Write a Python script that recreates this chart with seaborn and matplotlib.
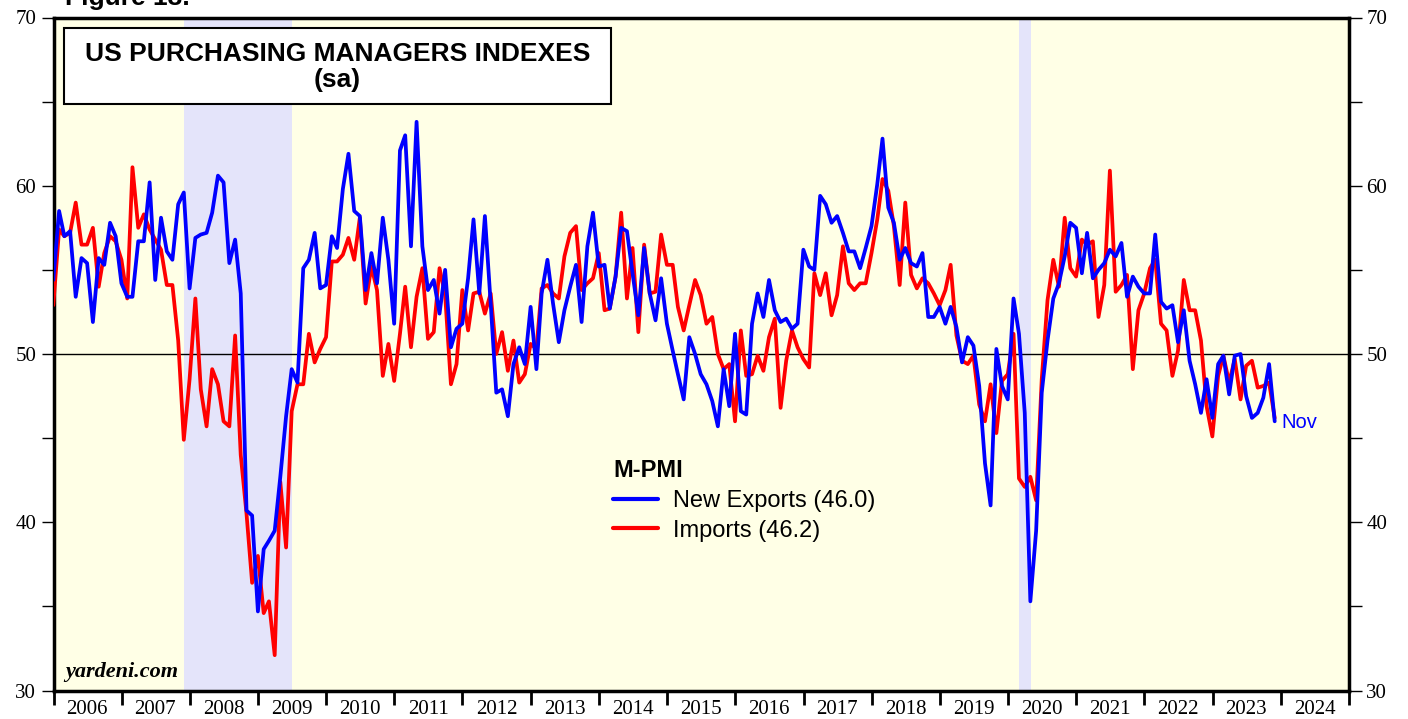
import pandas as pd
import seaborn as sns
import matplotlib.pyplot as plt
import matplotlib.dates as mdates
from matplotlib.ticker import MultipleLocator, NullFormatter
from matplotlib.patches import Rectangle

# monthly readings, plotted at month end, Dec 2005 .. Nov 2023
first_month_end = '2005-12-31'

new_exports = [
    54.4, 58.5, 57.0, 57.3, 53.4, 55.7, 55.4, 51.9, 55.7, 55.3, 57.8, 57.0,
    54.2, 53.4, 53.4, 56.7, 56.7, 60.2, 54.4, 58.1, 56.1, 55.6, 58.9, 59.6,
    53.9, 56.9, 57.1, 57.2, 58.4, 60.6, 60.2, 55.4, 56.8, 53.6, 40.7, 40.4,
    34.7, 38.4, 38.9, 39.5, 42.7, 46.3, 49.1, 48.3, 55.1, 55.6, 57.2, 53.9,
    54.1, 57.0, 56.3, 59.8, 61.9, 58.5, 58.2, 53.8, 56.0, 54.2, 58.1, 55.6,
    51.8, 62.1, 63.0, 56.4, 63.8, 56.4, 53.8, 54.4, 52.4, 55.0, 50.4, 51.5,
    51.8, 54.5, 58.0, 53.6, 58.2, 53.0, 47.7, 47.9, 46.3, 49.4, 50.4, 49.4,
    52.8, 49.1, 53.6, 55.6, 53.0, 50.7, 52.6, 54.0, 55.3, 51.9, 56.4, 58.4,
    55.2, 55.3, 52.7, 54.6, 57.5, 57.3, 54.8, 52.3, 56.3, 53.6, 52.0, 54.5,
    51.8, 50.2, 48.8, 47.3, 51.0, 50.0, 48.8, 48.2, 47.2, 45.7, 49.1, 46.9,
    51.2, 46.6, 46.4, 51.8, 53.6, 52.2, 54.4, 52.6, 51.9, 52.1, 51.5, 51.8,
    56.2, 55.2, 55.0, 59.4, 58.9, 57.8, 58.2, 57.2, 56.1, 56.1, 55.1, 56.3,
    57.6, 60.1, 62.8, 58.7, 57.8, 55.6, 56.3, 55.4, 55.2, 56.0, 52.2, 52.2,
    52.8, 51.8, 52.8, 51.6, 49.5, 51.0, 50.5, 48.1, 43.5, 41.0, 50.3, 48.1,
    47.3, 53.3, 51.2, 46.5, 35.3, 39.5, 47.7, 50.8, 53.3, 54.2, 55.8, 57.8,
    57.5, 54.8, 57.2, 54.5, 55.0, 55.4, 56.2, 55.8, 56.6, 53.4, 54.6, 54.0,
    53.6, 53.6, 57.1, 53.1, 52.7, 52.9, 50.7, 52.6, 49.6, 48.2, 46.5, 48.5,
    46.2, 49.4, 49.9, 47.6, 49.9, 50.0, 47.5, 46.2, 46.5, 47.4, 49.4, 46.0,
]

imports = [
    52.9, 57.4, 57.0, 57.2, 59.0, 56.5, 56.5, 57.5, 54.0, 56.0, 57.0, 56.7,
    55.6, 53.3, 61.1, 57.5, 58.3, 57.4, 56.8, 56.2, 54.1, 54.1, 50.8, 44.9,
    48.5, 53.3, 47.9, 45.7, 49.1, 48.2, 46.0, 45.7, 51.1, 44.0, 40.5, 36.4,
    38.0, 34.6, 35.3, 32.1, 42.4, 38.5, 46.6, 48.2, 48.2, 51.2, 49.5, 50.3,
    51.0, 55.5, 55.5, 55.9, 56.9, 55.6, 58.1, 53.0, 55.2, 53.8, 48.7, 50.6,
    48.4, 51.2, 54.0, 50.4, 53.4, 55.1, 50.9, 51.3, 55.1, 53.5, 48.2, 49.4,
    53.8, 51.4, 53.6, 53.7, 52.4, 53.6, 50.0, 51.3, 49.0, 50.8, 48.3, 48.8,
    50.6, 50.3, 53.9, 54.1, 53.6, 53.3, 55.8, 57.2, 57.6, 53.8, 54.2, 54.5,
    56.0, 52.6, 52.7, 54.6, 58.4, 53.3, 56.3, 51.3, 56.5, 53.6, 53.7, 57.1,
    55.3, 55.3, 52.8, 51.4, 52.9, 54.4, 53.5, 51.8, 52.2, 50.0, 49.1, 49.4,
    46.0, 51.4, 48.7, 48.8, 49.9, 49.0, 51.0, 52.1, 46.8, 49.6, 51.4, 50.4,
    49.7, 49.2, 54.8, 53.5, 54.8, 52.3, 53.5, 56.4, 54.2, 53.8, 54.2, 54.2,
    56.0, 58.0, 60.4, 59.7, 57.6, 54.1, 59.0, 54.7, 53.9, 54.5, 54.2, 53.6,
    52.9, 53.8, 55.3, 51.1, 49.6, 49.4, 49.9, 47.0, 46.0, 48.2, 45.3, 48.4,
    48.8, 51.2, 42.6, 42.1, 42.7, 41.3, 48.5, 53.2, 55.6, 54.0, 58.1, 55.1,
    54.6, 56.8, 56.5, 56.7, 52.2, 54.1, 60.9, 53.7, 54.1, 54.7, 49.1, 52.6,
    53.6, 55.1, 55.6, 51.8, 51.4, 48.7, 50.2, 54.4, 52.6, 52.6, 50.8, 46.9,
    45.1, 48.7, 49.9, 48.3, 49.7, 47.3, 49.3, 49.6, 48.0, 48.1, 48.3, 46.2,
]

recessions = [('2007-12-01', '2009-07-01'), ('2020-03-01', '2020-05-01')]

dates = pd.date_range(first_month_end, periods=len(new_exports), freq='ME')
df = pd.DataFrame({'date': dates, 'exports': new_exports, 'imports': imports})

sns.set_style('ticks')
plt.rcParams['font.family'] = ['Liberation Sans', 'DejaVu Sans']
plt.rcParams.update({'text.color': 'black', 'xtick.color': 'black',
                     'ytick.color': 'black', 'axes.labelcolor': 'black'})

fig = plt.figure(figsize=(14.08, 7.19), dpi=100)
ax = fig.add_axes([53.5 / 1408, 1 - 690.5 / 719, 1295.5 / 1408, 673 / 719])
ax.set_facecolor('#FFFFE6')

for start, end in recessions:
    ax.axvspan(pd.Timestamp(start), pd.Timestamp(end), color='#E4E4FA', lw=0, zorder=0)
ax.axhline(50, color='black', lw=1, zorder=1)

sns.lineplot(data=df, x='date', y='imports', color='#FF0000', lw=2.7,
             label=f'Imports ({imports[-1]:.1f})', ax=ax, zorder=3)
sns.lineplot(data=df, x='date', y='exports', color='#0000FF', lw=2.7,
             label=f'New Exports ({new_exports[-1]:.1f})', ax=ax, zorder=4)

ax.set_xlim(pd.Timestamp('2006-01-01'), pd.Timestamp('2025-01-01'))
ax.set_ylim(30, 70)
ax.set_xlabel('')
ax.set_ylabel('')

# x axis: ticks at year boundaries, year labels centred in between
ax.xaxis.set_major_locator(mdates.YearLocator(1))
ax.xaxis.set_major_formatter(NullFormatter())
ax.xaxis.set_minor_locator(mdates.MonthLocator(bymonth=7, bymonthday=1))
ax.xaxis.set_minor_formatter(mdates.DateFormatter('%Y'))
ax.tick_params(axis='x', which='major', length=10, width=2, direction='out')
ax.tick_params(axis='x', which='minor', length=0, pad=7, labelsize=15)

ax.yaxis.set_major_locator(MultipleLocator(10))
ax.yaxis.set_minor_locator(MultipleLocator(5))
ax.tick_params(axis='y', which='both', length=9, width=1, direction='out',
               left=True, right=True, labelleft=True, labelright=True, labelsize=15)
for lab in ax.get_xticklabels(minor=True) + ax.get_yticklabels():
    lab.set_family('Liberation Serif')

for sp in ax.spines.values():
    sp.set_visible(True)
    sp.set_linewidth(2.5)
    sp.set_color('black')

# title box
ax.add_patch(Rectangle((0.0081, 0.8715), 0.4222, 0.1129, transform=ax.transAxes,
                       facecolor='white', edgecolor='black', lw=1.5, zorder=6))
ax.text(0.2192, 0.926, 'US PURCHASING MANAGERS INDEXES\n(sa)', transform=ax.transAxes,
        ha='center', va='center', fontsize=19, fontweight='bold', linespacing=1.12, zorder=7)

handles, labels = ax.get_legend_handles_labels()
leg = ax.legend(handles[::-1], labels[::-1], loc='upper left', bbox_to_anchor=(0.432, 0.344),
                frameon=False, title='M-PMI', alignment='left', fontsize=17,
                handlelength=1.9, handletextpad=0.65, labelspacing=0.33, borderpad=0,
                borderaxespad=0, title_fontproperties={'weight': 'bold', 'size': 17})
for line in leg.get_lines():
    line.set_linewidth(3)

ax.annotate('Nov', (dates[-1], new_exports[-1]), xytext=(5, -1), textcoords='offset points',
            color='#0000FF', fontsize=14.5, va='center', ha='left')

ax.text(0.009, 0.02, 'yardeni.com', transform=ax.transAxes, fontsize=16,
        fontweight='bold', fontstyle='italic', family='Liberation Serif', zorder=5)

fig.text(65 / 1408, 1 - 5 / 719, 'Figure 13.', fontsize=19, fontweight='bold',
         va='baseline', ha='left')

fig.savefig('out.png', dpi=100)
